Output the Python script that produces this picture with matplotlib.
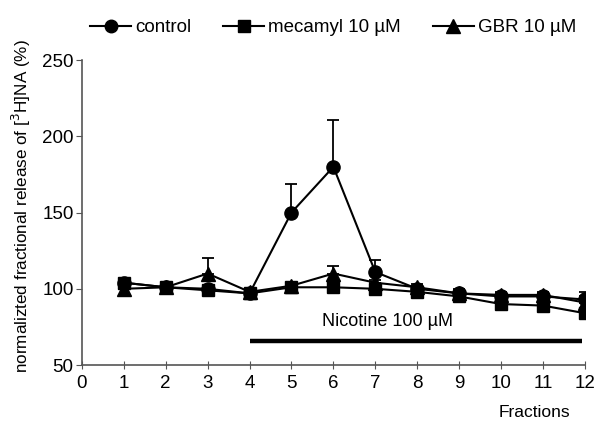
import matplotlib
matplotlib.use("Agg")
import matplotlib.pyplot as plt
import numpy as np

plt.rcParams['font.family'] = ['Liberation Sans', 'DejaVu Sans']

fractions = [1, 2, 3, 4, 5, 6, 7, 8, 9, 10, 11, 12]
control = [104, 101, 100, 97, 150, 180, 111, 100, 97, 95, 95, 93]
control_err = [2, 1, 2, 2, 19, 31, 8, 2, 3, 2, 2, 2]
mecamyl = [104, 101, 99, 97, 101, 101, 100, 98, 95, 90, 89, 84]
mecamyl_err = [2, 1, 2, 1, 2, 2, 2, 2, 2, 2, 2, 2]
gbr = [100, 101, 110, 98, 102, 110, 104, 101, 97, 96, 96, 91]
gbr_err = [2, 1, 10, 2, 2, 5, 2, 2, 2, 2, 2, 7]
xticks = list(range(0, 13))
yticks = [50, 100, 150, 200, 250]
nicotine_span = [4, 11.93]
nicotine_level = 66

fig = plt.figure(figsize=(5.98, 4.23), dpi=100)
ax = fig.add_axes([0.137, 0.137, 0.841, 0.721])

series = [
    (control, control_err, 'o', 'control', 9.5),
    (mecamyl, mecamyl_err, 's', 'mecamyl 10 µM', 8.5),
    (gbr, gbr_err, '^', 'GBR 10 µM', 9.5),
]
for vals, err, mk, lab, ms in series:
    ax.errorbar(fractions, vals, yerr=[np.zeros(len(err)), err], fmt='-', marker=mk,
                color='black', ms=ms, lw=1.5, elinewidth=1.3, capsize=4, capthick=1.3,
                label=lab)

ax.plot(nicotine_span, [nicotine_level] * 2, color='black', lw=3.2, solid_capstyle='butt')
ax.text(7.3, 78.5, 'Nicotine 100 µM', ha='center', va='center', fontsize=13)

ax.set_xlim(0, 12)
ax.set_ylim(50, 250)
ax.set_xticks(xticks)
ax.set_yticks(yticks)
ax.tick_params(axis='x', direction='inout', length=6, labelsize=13.5, pad=4, color='#555555')
ax.tick_params(axis='y', direction='out', length=4, labelsize=13.5, pad=2, color='#555555')
for s in ['top', 'right']:
    ax.spines[s].set_visible(False)
for s in ['left', 'bottom']:
    ax.spines[s].set_color('#555555')
    ax.spines[s].set_linewidth(1.2)
ax.set_ylabel('normalizted fractional release of [$^3$H]NA (%)', fontsize=12.3)
ax.yaxis.set_label_coords(-0.097, 0.52)
ax.set_xlabel('Fractions', fontsize=12.5)
ax.xaxis.set_label_coords(0.9, -0.13)

leg_handles = [plt.Line2D([], [], color='black', marker=m, ms=ms, lw=1.5)
               for m, ms in [('o', 9), ('s', 8.5), ('^', 9.5)]]
fig.legend(leg_handles, ['control', 'mecamyl 10 µM', 'GBR 10 µM'], loc='upper center',
           bbox_to_anchor=(0.557, 0.995), ncol=3, frameon=False, fontsize=13.5,
           handlelength=2.2, handletextpad=0.2, columnspacing=1.7)

fig.savefig('out.png', dpi=100)
